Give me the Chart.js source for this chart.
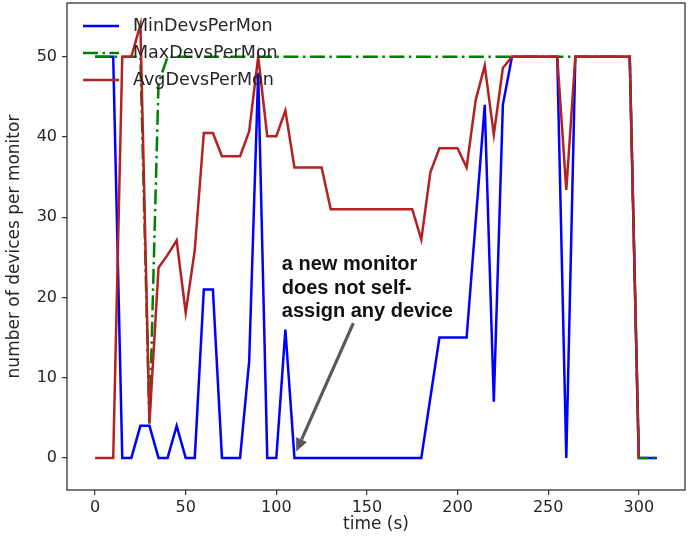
<!DOCTYPE html>
<html>
<head>
<meta charset="utf-8">
<script src="https://cdn.jsdelivr.net/npm/chart.js@4.4.1/dist/chart.umd.min.js"></script>
<style>
  html, body { margin: 0; padding: 0; background: #fff; }
  #wrap { width: 688px; height: 537px; }
</style>
</head>
<body>
<div id="wrap"><canvas id="grafico"></canvas></div>
<script>
// time in seconds, one sample every 5 s
const times = [0, 5, 10, 15, 20, 25, 30, 35, 40, 45,
  50, 55, 60, 65, 70, 75, 80, 85, 90, 95,
  100, 105, 110, 115, 120, 125, 130, 135, 140, 145,
  150, 155, 160, 165, 170, 175, 180, 185, 190, 195,
  200, 205, 210, 215, 220, 225, 230, 235, 240, 245,
  250, 255, 260, 265, 270, 275, 280, 285, 290, 295,
  300, 305, 310];

const minDevs = [50, 50, 50, 0, 0, 4, 4, 0, 0, 4,
  0, 0, 21, 21, 0, 0, 0, 12, 48, 0,
  0, 16, 0, 0, 0, 0, 0, 0, 0, 0,
  0, 0, 0, 0, 0, 0, 0, 7.5, 15, 15,
  15, 15, 29.5, 44, 7, 44, 50, 50, 50, 50,
  50, 50, 0, 50, 50, 50, 50, 50, 50, 50,
  0, 0, 0];

const maxDevs = [50, 50, 50, 50, 50, 50, 4, 46.7, 50, 50,
  50, 50, 50, 50, 50, 50, 50, 50, 50, 50,
  50, 50, 50, 50, 50, 50, 50, 50, 50, 50,
  50, 50, 50, 50, 50, 50, 50, 50, 50, 50,
  50, 50, 50, 50, 50, 50, 50, 50, 50, 50,
  50, 50, 50, 50, 50, 50, 50, 50, 50, 50,
  0, 0, 0];

const avgDevs = [0, 0, 0, 50, 50, 54, 4.4, 23.7, 25.3, 27.1,
  18.1, 25.9, 40.5, 40.5, 37.6, 37.6, 37.6, 40.7, 50, 40.1,
  40.1, 43.3, 36.2, 36.2, 36.2, 36.2, 31, 31, 31, 31,
  31, 31, 31, 31, 31, 31, 27.2, 35.6, 38.6, 38.6,
  38.6, 36.2, 44.6, 48.9, 40.3, 48.6, 50, 50, 50, 50,
  50, 50, 33.4, 50, 50, 50, 50, 50, 50, 50,
  0, null, null];

const xTicks = [0, 50, 100, 150, 200, 250, 300];
const yTicks = [0, 10, 20, 30, 40, 50];
const seriesNames = ['MinDevsPerMon', 'MaxDevsPerMon', 'AvgDevsPerMon'];
const noteLines = ['a new monitor', 'does not self-', 'assign any device'];

// annotation placement in data units
const note = { textX: 103, textY: 23.4, tailX: 142.5, tailY: 16.8, tipX: 111, tipY: 0.8 };

const textColor = '#262626';
Chart.defaults.font.family = "'DejaVu Sans', sans-serif";
Chart.defaults.color = textColor;

const toXY = vals => times.map((t, i) => ({ x: t, y: vals[i] }));

// box around the plot, like matplotlib spines
const frame = {
    id: 'frame',
    afterDatasetsDraw(chart) {
        const a = chart.chartArea;
        const ctx = chart.ctx;
        ctx.save();
        ctx.strokeStyle = '#333';
        ctx.lineWidth = 1.3;
        ctx.strokeRect(a.left, a.top, a.right - a.left, a.bottom - a.top);
        ctx.restore();
    }
};

// legend in the upper left corner, no box
const lineLegend = {
    id: 'lineLegend',
    afterDraw(chart) {
        const ctx = chart.ctx;
        ctx.save();
        chart.data.datasets.forEach((ds, i) => {
            const y = 26 + i * 27;
            ctx.strokeStyle = ds.borderColor;
            ctx.lineWidth = ds.borderWidth;
            ctx.setLineDash(ds.borderDash || []);
            ctx.beginPath();
            ctx.moveTo(83, y);
            ctx.lineTo(119, y);
            ctx.stroke();
            ctx.setLineDash([]);
            ctx.fillStyle = textColor;
            ctx.font = "17.5px 'DejaVu Sans'";
            ctx.textBaseline = 'middle';
            ctx.fillText(ds.label, 133, y);
        });
        ctx.restore();
    }
};

const arrowNote = {
    id: 'arrowNote',
    afterDraw(chart) {
        const xs = chart.scales.x, ys = chart.scales.y;
        const ctx = chart.ctx;
        ctx.save();
        ctx.fillStyle = '#111';
        ctx.font = "bold 20px 'Liberation Sans'";
        ctx.textBaseline = 'alphabetic';
        const tx = xs.getPixelForValue(note.textX);
        const ty = ys.getPixelForValue(note.textY);
        noteLines.forEach((line, i) => ctx.fillText(line, tx, ty + i * 23.5));

        const x0 = xs.getPixelForValue(note.tailX), y0 = ys.getPixelForValue(note.tailY);
        const x1 = xs.getPixelForValue(note.tipX), y1 = ys.getPixelForValue(note.tipY);
        const ang = Math.atan2(y1 - y0, x1 - x0);
        const headLen = 13, headW = 6;
        const bx = x1 - headLen * Math.cos(ang), by = y1 - headLen * Math.sin(ang);
        ctx.strokeStyle = '#595959';
        ctx.fillStyle = '#595959';
        ctx.lineWidth = 3.2;
        ctx.beginPath();
        ctx.moveTo(x0, y0);
        ctx.lineTo(bx, by);
        ctx.stroke();
        ctx.beginPath();
        ctx.moveTo(x1, y1);
        ctx.lineTo(bx + headW * Math.sin(ang), by - headW * Math.cos(ang));
        ctx.lineTo(bx - headW * Math.sin(ang), by + headW * Math.cos(ang));
        ctx.closePath();
        ctx.fill();
        ctx.restore();
    }
};

// fixed axis sizes, no extra label padding around the plot
const fixSize = (w, h) => s => {
    if (w) s.width = w;
    if (h) s.height = h;
    s.paddingTop = 0;
    s.paddingBottom = 0;
    s.paddingLeft = 0;
    s.paddingRight = 0;
};

const ctx = document.getElementById('grafico');

new Chart(ctx, {
    type: 'line',
    data: {
        datasets: [{
            label: seriesNames[0],
            data: toXY(minDevs),
            borderColor: '#0000ff',
            borderWidth: 2.5,
            order: 3
        }, {
            label: seriesNames[1],
            data: toXY(maxDevs),
            borderColor: '#008000',
            borderWidth: 2.5,
            borderDash: [15, 4.5, 2.5, 4.5],
            order: 2
        }, {
            label: seriesNames[2],
            data: toXY(avgDevs),
            borderColor: '#b22222',
            borderWidth: 2.5,
            order: 1
        }]
    },
    options: {
        responsive: true,
        maintainAspectRatio: false,
        animation: false,
        elements: {
            line: { tension: 0, fill: false },
            point: { radius: 0, hoverRadius: 0 }
        },
        layout: {
            padding: { top: 3, right: 3, left: 0, bottom: 0 }
        },
        plugins: {
            legend: { display: false },
            tooltip: { enabled: false }
        },
        scales: {
            x: {
                type: 'linear',
                min: -15.5,
                max: 325.5,
                afterBuildTicks: s => { s.ticks = xTicks.map(v => ({ value: v })); },
                afterFit: fixSize(0, 47),
                grid: { drawOnChartArea: false, drawTicks: true, tickLength: 5, color: '#333', lineWidth: 1.2 },
                border: { display: false },
                ticks: { font: { size: 16 }, padding: 3, maxRotation: 0, autoSkip: false },
                title: {
                    display: true,
                    text: 'time (s)',
                    font: { size: 17 },
                    padding: { top: 0, bottom: 2 }
                }
            },
            y: {
                min: -4,
                max: 56.7,
                afterBuildTicks: s => { s.ticks = yTicks.map(v => ({ value: v })); },
                afterFit: fixSize(67, 0),
                grid: { drawOnChartArea: false, drawTicks: true, tickLength: 5, color: '#333', lineWidth: 1.2 },
                border: { display: false },
                ticks: { font: { size: 16 }, padding: 5, autoSkip: false },
                title: {
                    display: true,
                    text: 'number of devices per monitor',
                    font: { size: 17 },
                    padding: { top: 4, bottom: 0 }
                }
            }
        }
    },
    plugins: [frame, lineLegend, arrowNote]
});
</script>
</body>
</html>
